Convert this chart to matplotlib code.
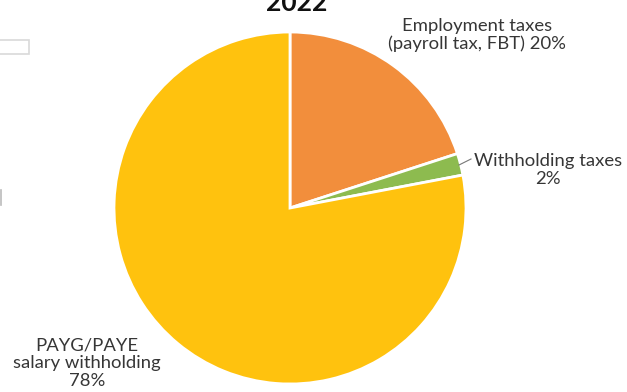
import matplotlib
matplotlib.use("Agg")
import matplotlib.pyplot as plt
from matplotlib.patches import Rectangle

# Tax composition, 2022 (% of total)
categories = ["Employment taxes\n(payroll tax, FBT)", "Withholding taxes", "PAYG/PAYE\nsalary withholding"]
shares = [20, 2, 78]
colors = ["#F28E3C", "#8DBB4F", "#FFC20E"]
title = "2022"

W, H = 627, 392
fig = plt.figure(figsize=(W / 100, H / 100), dpi=100)
ax = fig.add_axes([0, 0, 1, 1])

cx, cy, r = 290, H - 208, 176
ax.pie(shares, colors=colors, startangle=90, counterclock=False,
       center=(cx, cy), radius=r,
       wedgeprops=dict(edgecolor="white", linewidth=2))
ax.set_xlim(0, W)
ax.set_ylim(0, H)
ax.set_aspect("equal")
ax.axis("off")

font = ["Lato", "DejaVu Sans"]
tc = "#363636"
fs = 13.3

ax.text(477, H - 35, f"{categories[0]} {shares[0]}%", ha="center", va="center",
        fontsize=fs, color=tc, family=font, linespacing=1.15)
ax.text(548, H - 170, f"{categories[1]}\n{shares[1]}%", ha="center", va="center",
        fontsize=fs, color=tc, family=font, linespacing=1.15)
ax.plot([459, 471], [H - 165, H - 159], color="#777777", lw=0.8)
ax.text(87, H - 363, f"{categories[2]}\n{shares[2]}%", ha="center", va="center",
        fontsize=fs, color=tc, family=font, linespacing=1.15)

ax.text(297, H - 11, title, ha="center", va="baseline", fontsize=19,
        fontweight="bold", color="#111111", family=font)

# partial legend frame at the left edge
ax.add_patch(Rectangle((-2, H - 54), 31, 14, fill=False, edgecolor="#d9d9d9", lw=1.2))
ax.plot([0.8, 0.8], [H - 205, H - 190], color="#bbbbbb", lw=1.2)

fig.savefig("out.png", dpi=100, facecolor="white")
